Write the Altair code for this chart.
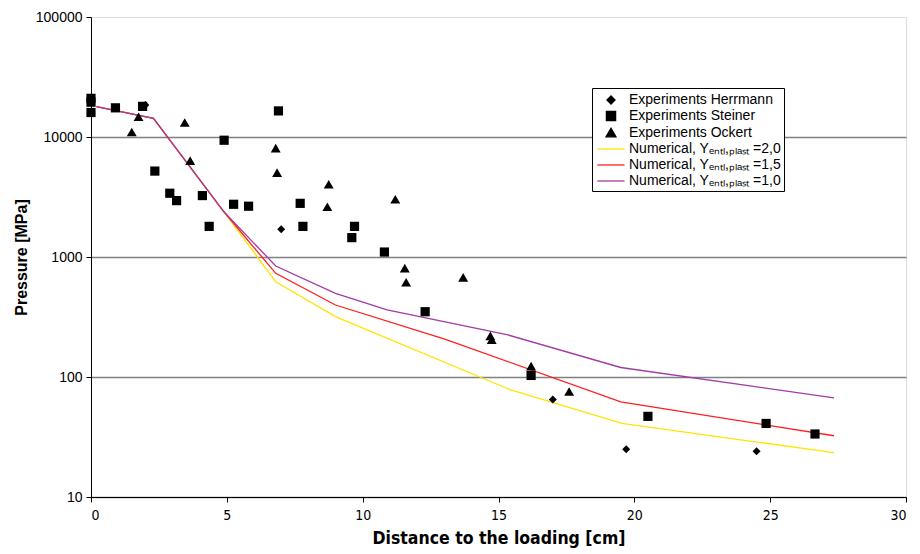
import altair as alt
import pandas as pd

# ---------------- data ----------------
S_H = "Experiments Herrmann"
S_S = "Experiments Steiner"
S_O = "Experiments Ockert"
N20 = "Numerical, Yₑₙₜₗ,ₚₗₐₛₜ =2,0"
N15 = "Numerical, Yₑₙₜₗ,ₚₗₐₛₜ =1,5"
N10 = "Numerical, Yₑₙₜₗ,ₚₗₐₛₜ =1,0"
series_order = [S_H, S_S, S_O, N20, N15, N10]

herr_x = [2.0, 7.0, 17.0, 19.7, 24.5]
herr_y = [18500, 1700, 65, 25, 24]

stein_x = [0, 0, 0, 0.9, 1.9, 2.35, 2.9, 3.15, 4.1, 4.35, 4.9, 5.25, 5.8, 6.9,
           7.7, 7.8, 9.6, 9.7, 10.8, 12.3, 16.2, 20.5, 24.85, 26.65]
stein_y = [21000, 19500, 16000, 17500, 18000, 5200, 3400, 2950, 3250, 1800, 9400,
           2750, 2650, 16500, 2800, 1800, 1450, 1800, 1100, 350, 103, 47, 41, 33.5]

ock_x = [1.5, 1.75, 3.45, 3.65, 6.8, 6.85, 8.75, 8.7, 11.2, 11.55, 11.6, 13.7,
         14.7, 14.75, 16.2, 17.6]
ock_y = [10900, 14600, 13100, 6300, 8000, 5000, 4000, 2600, 3000, 800, 610, 670,
         218, 203, 122, 75]

n20_x = [0.2, 2.3, 4.9, 6.8, 9.0, 15.45, 19.55, 27.35]
n20_y = [17900, 14300, 2370, 622, 319, 78, 41, 23.4]

n15_x = [0.2, 2.3, 4.9, 6.8, 9.0, 13.05, 19.5, 27.35]
n15_y = [17900, 14300, 2370, 731, 398, 206, 62, 32.4]

n10_x = [0.2, 2.3, 4.9, 6.8, 9.0, 10.9, 15.35, 19.5, 27.35]
n10_y = [17900, 14300, 2370, 841, 498, 362, 224, 120, 67]

y_ticks = [10, 100, 1000, 10000, 100000]
x_ticks = [0, 5, 10, 15, 20, 25, 30]

# ---------------- tables ----------------
def frame(xs, ys, name):
    return pd.DataFrame({"x": xs, "y": ys, "series": name})

pts = pd.concat([frame(herr_x, herr_y, S_H),
                 frame(stein_x, stein_y, S_S),
                 frame(ock_x, ock_y, S_O)], ignore_index=True)
lines = pd.concat([frame(n20_x, n20_y, N20),
                   frame(n15_x, n15_y, N15),
                   frame(n10_x, n10_y, N10)], ignore_index=True)
lines["order"] = range(len(lines))

FONT = "Liberation Sans"
NARROW = "Liberation Sans Narrow, DejaVu Sans Condensed, Liberation Sans"

colors = ["#000000", "#000000", "#000000", "#FFE500", "#FF1E1E", "#A23AA6"]
# symbol outlines in the unit square (scaled by the symbol size)
DIAMOND = "M0,-0.5L0.5,0L0,0.5L-0.5,0Z"
SQUARE = "M-0.575,-0.575H0.575V0.575H-0.575Z"
TRIANGLE = "M0,-0.6L0.62,0.48H-0.62Z"
LINE = "M-1.7,0H1.7"
shapes = [DIAMOND, SQUARE, TRIANGLE, LINE, LINE, LINE]
SYM = 256

legend = alt.Legend(
    title=None, orient="none", legendX=501, legendY=71,
    fillColor="white", strokeColor="black",
    padding=3, rowPadding=-1, labelFont=FONT, labelFontSize=14,
    labelColor="black", labelLimit=400, labelOffset=9, symbolOffset=7,
    symbolStrokeWidth=1.3, symbolSize=SYM,
)

xscale = alt.Scale(domain=[0, 30], nice=False)
yscale = alt.Scale(type="log", domain=[10, 100000], nice=False)

xaxis = alt.Axis(values=x_ticks, title="Distance to the loading [cm]", grid=False,
                 labelFont=NARROW, labelFontSize=14, labelColor="black",
                 titleFont=NARROW, titleFontSize=17.5, titleFontWeight="bold",
                 titleColor="black", tickSize=5, labelPadding=6, titlePadding=7,
                 domainColor="black", tickColor="black")
yaxis = alt.Axis(values=y_ticks, format="d", title="Pressure [MPa]", grid=True,
                 gridColor={"condition": {"test": "datum.value >= 100000", "value": "transparent"},
                            "value": "#808080"},
                 gridWidth=1.5,
                 labelFont=FONT, labelFontSize=14, labelColor="black",
                 titleFont=FONT, titleFontSize=16, titleFontWeight="bold",
                 titleColor="black", tickSize=5, labelPadding=4, titlePadding=6,
                 domainColor="black", tickColor="black")

color_enc = alt.Color("series:N", scale=alt.Scale(domain=series_order, range=colors),
                      legend=legend)
stroke_enc = alt.Stroke("series:N", scale=alt.Scale(domain=series_order, range=colors),
                        legend=legend)
shape_enc = alt.Shape("series:N", scale=alt.Scale(domain=series_order, range=shapes),
                      legend=legend)

line_layer = alt.Chart(lines).mark_line(strokeWidth=1.3).encode(
    x=alt.X("x:Q", scale=xscale, axis=xaxis),
    y=alt.Y("y:Q", scale=yscale, axis=yaxis),
    stroke=stroke_enc,
    detail="series:N",
    order="order:Q",
)

point_layer = alt.Chart(pts).mark_point(filled=True, opacity=1, size=SYM).encode(
    x=alt.X("x:Q", scale=xscale, axis=xaxis),
    y=alt.Y("y:Q", scale=yscale, axis=yaxis),
    color=color_enc,
    shape=shape_enc,
)

chart = alt.layer(line_layer, point_layer).properties(
    width=815, height=480, padding={"left": 5, "top": 2, "right": 5, "bottom": 5}
).configure_view(stroke=None).configure(background="white")

chart.save("out.html", embed_options={"renderer": "svg", "actions": False})
